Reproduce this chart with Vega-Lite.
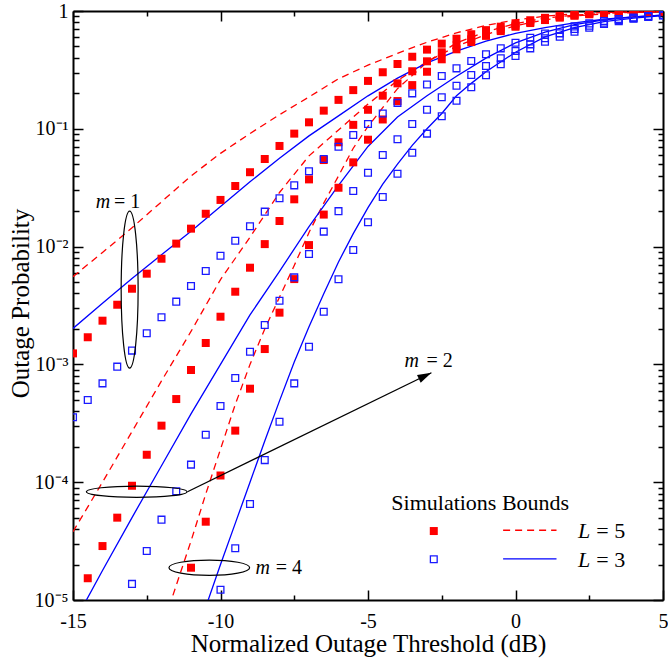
{
  "$schema": "https://vega.github.io/schema/vega-lite/v6.json",
  "width": 590,
  "height": 589,
  "autosize": {"type": "none"},
  "padding": {"left": 73, "top": 11, "right": 5, "bottom": 58},
  "background": "white",
  "config": {
    "font": "Liberation Serif",
    "view": {"stroke": null},
    "axis": {
      "grid": false,
      "domainColor": "black",
      "domainWidth": 2,
      "tickColor": "black",
      "tickWidth": 1.5,
      "labelColor": "black",
      "titleColor": "black",
      "labelFont": "Liberation Serif",
      "titleFont": "Liberation Serif",
      "titleFontWeight": "normal"
    }
  },
  "datasets": {
    "curves": [
      {"x": -15, "y": 0.00556, "m": 1, "L": 5}, {"x": -14, "y": 0.00891, "m": 1, "L": 5}, {"x": -13, "y": 0.01445, "m": 1, "L": 5}, {"x": -12, "y": 0.024, "m": 1, "L": 5}, {"x": -11, "y": 0.0398, "m": 1, "L": 5}, {"x": -10, "y": 0.0619, "m": 1, "L": 5}, {"x": -9, "y": 0.0912, "m": 1, "L": 5}, {"x": -8, "y": 0.1318, "m": 1, "L": 5}, {"x": -7, "y": 0.1862, "m": 1, "L": 5}, {"x": -6, "y": 0.266, "m": 1, "L": 5}, {"x": -5, "y": 0.347, "m": 1, "L": 5}, {"x": -4, "y": 0.437, "m": 1, "L": 5}, {"x": -3, "y": 0.543, "m": 1, "L": 5}, {"x": -2, "y": 0.653, "m": 1, "L": 5}, {"x": -1, "y": 0.755, "m": 1, "L": 5}, {"x": 0, "y": 0.839, "m": 1, "L": 5}, {"x": 1, "y": 0.904, "m": 1, "L": 5}, {"x": 2, "y": 0.946, "m": 1, "L": 5}, {"x": 3, "y": 0.97, "m": 1, "L": 5}, {"x": 4, "y": 0.984, "m": 1, "L": 5}, {"x": 5, "y": 0.991, "m": 1, "L": 5},
      {"x": -15, "y": 0.00202, "m": 1, "L": 3}, {"x": -14, "y": 0.00331, "m": 1, "L": 3}, {"x": -13, "y": 0.00537, "m": 1, "L": 3}, {"x": -12, "y": 0.00851, "m": 1, "L": 3}, {"x": -11, "y": 0.01349, "m": 1, "L": 3}, {"x": -10, "y": 0.0219, "m": 1, "L": 3}, {"x": -9, "y": 0.0355, "m": 1, "L": 3}, {"x": -8, "y": 0.0562, "m": 1, "L": 3}, {"x": -7, "y": 0.0871, "m": 1, "L": 3}, {"x": -6, "y": 0.1288, "m": 1, "L": 3}, {"x": -5, "y": 0.1905, "m": 1, "L": 3}, {"x": -4, "y": 0.269, "m": 1, "L": 3}, {"x": -3, "y": 0.363, "m": 1, "L": 3}, {"x": -2, "y": 0.457, "m": 1, "L": 3}, {"x": -1, "y": 0.556, "m": 1, "L": 3}, {"x": 0, "y": 0.646, "m": 1, "L": 3}, {"x": 1, "y": 0.724, "m": 1, "L": 3}, {"x": 2, "y": 0.794, "m": 1, "L": 3}, {"x": 3, "y": 0.851, "m": 1, "L": 3}, {"x": 4, "y": 0.891, "m": 1, "L": 3}, {"x": 5, "y": 0.923, "m": 1, "L": 3},
      {"x": -15, "y": 0.000038, "m": 2, "L": 5}, {"x": -14, "y": 0.0001, "m": 2, "L": 5}, {"x": -13, "y": 0.000269, "m": 2, "L": 5}, {"x": -12, "y": 0.000724, "m": 2, "L": 5}, {"x": -11, "y": 0.001905, "m": 2, "L": 5}, {"x": -10, "y": 0.00525, "m": 2, "L": 5}, {"x": -9, "y": 0.01202, "m": 2, "L": 5}, {"x": -8, "y": 0.0288, "m": 2, "L": 5}, {"x": -7, "y": 0.0589, "m": 2, "L": 5}, {"x": -6, "y": 0.0977, "m": 2, "L": 5}, {"x": -5, "y": 0.162, "m": 2, "L": 5}, {"x": -4, "y": 0.257, "m": 2, "L": 5}, {"x": -3, "y": 0.372, "m": 2, "L": 5}, {"x": -2, "y": 0.501, "m": 2, "L": 5}, {"x": -1, "y": 0.631, "m": 2, "L": 5}, {"x": 0, "y": 0.75, "m": 2, "L": 5}, {"x": 1, "y": 0.841, "m": 2, "L": 5}, {"x": 2, "y": 0.906, "m": 2, "L": 5}, {"x": 3, "y": 0.946, "m": 2, "L": 5}, {"x": 4, "y": 0.97, "m": 2, "L": 5}, {"x": 5, "y": 0.984, "m": 2, "L": 5},
      {"x": -15, "y": 0.00000617, "m": 2, "L": 3}, {"x": -14, "y": 0.00001778, "m": 2, "L": 3}, {"x": -13, "y": 0.0000501, "m": 2, "L": 3}, {"x": -12, "y": 0.000138, "m": 2, "L": 3}, {"x": -11, "y": 0.00038, "m": 2, "L": 3}, {"x": -10, "y": 0.001, "m": 2, "L": 3}, {"x": -9, "y": 0.00263, "m": 2, "L": 3}, {"x": -8, "y": 0.00617, "m": 2, "L": 3}, {"x": -7, "y": 0.01479, "m": 2, "L": 3}, {"x": -6, "y": 0.0331, "m": 2, "L": 3}, {"x": -5, "y": 0.0708, "m": 2, "L": 3}, {"x": -4, "y": 0.1259, "m": 2, "L": 3}, {"x": -3, "y": 0.1905, "m": 2, "L": 3}, {"x": -2, "y": 0.279, "m": 2, "L": 3}, {"x": -1, "y": 0.398, "m": 2, "L": 3}, {"x": 0, "y": 0.537, "m": 2, "L": 3}, {"x": 1, "y": 0.661, "m": 2, "L": 3}, {"x": 2, "y": 0.767, "m": 2, "L": 3}, {"x": 3, "y": 0.841, "m": 2, "L": 3}, {"x": 4, "y": 0.891, "m": 2, "L": 3}, {"x": 5, "y": 0.923, "m": 2, "L": 3},
      {"x": -12, "y": 0.00000562, "m": 4, "L": 5}, {"x": -11, "y": 0.0000316, "m": 4, "L": 5}, {"x": -10.5, "y": 0.0000794, "m": 4, "L": 5}, {"x": -10, "y": 0.0001905, "m": 4, "L": 5}, {"x": -9.5, "y": 0.000457, "m": 4, "L": 5}, {"x": -9, "y": 0.001, "m": 4, "L": 5}, {"x": -8.5, "y": 0.002, "m": 4, "L": 5}, {"x": -8, "y": 0.00372, "m": 4, "L": 5}, {"x": -7.5, "y": 0.00692, "m": 4, "L": 5}, {"x": -7, "y": 0.01318, "m": 4, "L": 5}, {"x": -6.5, "y": 0.0234, "m": 4, "L": 5}, {"x": -6, "y": 0.0398, "m": 4, "L": 5}, {"x": -5.5, "y": 0.0684, "m": 4, "L": 5}, {"x": -5, "y": 0.1047, "m": 4, "L": 5}, {"x": -4, "y": 0.219, "m": 4, "L": 5}, {"x": -3, "y": 0.367, "m": 4, "L": 5}, {"x": -2, "y": 0.537, "m": 4, "L": 5}, {"x": -1, "y": 0.668, "m": 4, "L": 5}, {"x": 0, "y": 0.782, "m": 4, "L": 5}, {"x": 1, "y": 0.871, "m": 4, "L": 5}, {"x": 2, "y": 0.923, "m": 4, "L": 5}, {"x": 3, "y": 0.955, "m": 4, "L": 5}, {"x": 4, "y": 0.977, "m": 4, "L": 5}, {"x": 5, "y": 0.989, "m": 4, "L": 5},
      {"x": -10.5, "y": 0.00000871, "m": 4, "L": 3}, {"x": -10, "y": 0.00002, "m": 4, "L": 3}, {"x": -9.5, "y": 0.0000447, "m": 4, "L": 3}, {"x": -9, "y": 0.0001, "m": 4, "L": 3}, {"x": -8.5, "y": 0.000224, "m": 4, "L": 3}, {"x": -8, "y": 0.00049, "m": 4, "L": 3}, {"x": -7.5, "y": 0.001047, "m": 4, "L": 3}, {"x": -7, "y": 0.00209, "m": 4, "L": 3}, {"x": -6.5, "y": 0.00398, "m": 4, "L": 3}, {"x": -6, "y": 0.00741, "m": 4, "L": 3}, {"x": -5.5, "y": 0.01288, "m": 4, "L": 3}, {"x": -5, "y": 0.0214, "m": 4, "L": 3}, {"x": -4.5, "y": 0.0339, "m": 4, "L": 3}, {"x": -4, "y": 0.0501, "m": 4, "L": 3}, {"x": -3.5, "y": 0.0724, "m": 4, "L": 3}, {"x": -3, "y": 0.1, "m": 4, "L": 3}, {"x": -2.5, "y": 0.135, "m": 4, "L": 3}, {"x": -2, "y": 0.1905, "m": 4, "L": 3}, {"x": -1.5, "y": 0.243, "m": 4, "L": 3}, {"x": -1, "y": 0.305, "m": 4, "L": 3}, {"x": 0, "y": 0.447, "m": 4, "L": 3}, {"x": 1, "y": 0.603, "m": 4, "L": 3}, {"x": 2, "y": 0.724, "m": 4, "L": 3}, {"x": 3, "y": 0.813, "m": 4, "L": 3}, {"x": 4, "y": 0.871, "m": 4, "L": 3}, {"x": 5, "y": 0.912, "m": 4, "L": 3}
    ],
    "sims": [
      {"x": -15, "y": 0.00124, "m": 1, "L": 5}, {"x": -14.5, "y": 0.0017, "m": 1, "L": 5}, {"x": -14, "y": 0.00235, "m": 1, "L": 5}, {"x": -13.5, "y": 0.00321, "m": 1, "L": 5}, {"x": -13, "y": 0.00439, "m": 1, "L": 5}, {"x": -12.5, "y": 0.00589, "m": 1, "L": 5}, {"x": -12, "y": 0.00789, "m": 1, "L": 5}, {"x": -11.5, "y": 0.0106, "m": 1, "L": 5}, {"x": -11, "y": 0.0142, "m": 1, "L": 5}, {"x": -10.5, "y": 0.019, "m": 1, "L": 5}, {"x": -10, "y": 0.0249, "m": 1, "L": 5}, {"x": -9.5, "y": 0.0327, "m": 1, "L": 5}, {"x": -9, "y": 0.0428, "m": 1, "L": 5}, {"x": -8.5, "y": 0.0554, "m": 1, "L": 5}, {"x": -8, "y": 0.0715, "m": 1, "L": 5}, {"x": -7.5, "y": 0.091, "m": 1, "L": 5}, {"x": -7, "y": 0.1135, "m": 1, "L": 5}, {"x": -6.5, "y": 0.1426, "m": 1, "L": 5}, {"x": -6, "y": 0.176, "m": 1, "L": 5}, {"x": -5.5, "y": 0.213, "m": 1, "L": 5}, {"x": -5, "y": 0.255, "m": 1, "L": 5}, {"x": -4.5, "y": 0.302, "m": 1, "L": 5}, {"x": -4, "y": 0.355, "m": 1, "L": 5}, {"x": -3.5, "y": 0.409, "m": 1, "L": 5}, {"x": -3, "y": 0.47, "m": 1, "L": 5}, {"x": -2.5, "y": 0.528, "m": 1, "L": 5}, {"x": -2, "y": 0.582, "m": 1, "L": 5}, {"x": -1.5, "y": 0.635, "m": 1, "L": 5}, {"x": -1, "y": 0.688, "m": 1, "L": 5}, {"x": -0.5, "y": 0.736, "m": 1, "L": 5}, {"x": 0, "y": 0.786, "m": 1, "L": 5}, {"x": 0.5, "y": 0.835, "m": 1, "L": 5}, {"x": 1, "y": 0.875, "m": 1, "L": 5}, {"x": 1.5, "y": 0.91, "m": 1, "L": 5}, {"x": 2, "y": 0.94, "m": 1, "L": 5}, {"x": 2.5, "y": 0.962, "m": 1, "L": 5}, {"x": 3, "y": 0.972, "m": 1, "L": 5}, {"x": 3.5, "y": 0.978, "m": 1, "L": 5}, {"x": 4, "y": 0.983, "m": 1, "L": 5}, {"x": 4.5, "y": 0.987, "m": 1, "L": 5}, {"x": 5, "y": 0.99, "m": 1, "L": 5},
      {"x": -15, "y": 0.000009, "m": 2, "L": 5}, {"x": -14.5, "y": 0.0000153, "m": 2, "L": 5}, {"x": -14, "y": 0.0000287, "m": 2, "L": 5}, {"x": -13.5, "y": 0.00005, "m": 2, "L": 5}, {"x": -13, "y": 0.0000933, "m": 2, "L": 5}, {"x": -12.5, "y": 0.000171, "m": 2, "L": 5}, {"x": -12, "y": 0.000302, "m": 2, "L": 5}, {"x": -11.5, "y": 0.000508, "m": 2, "L": 5}, {"x": -11, "y": 0.000896, "m": 2, "L": 5}, {"x": -10.5, "y": 0.00152, "m": 2, "L": 5}, {"x": -10, "y": 0.00254, "m": 2, "L": 5}, {"x": -9.5, "y": 0.00414, "m": 2, "L": 5}, {"x": -9, "y": 0.00662, "m": 2, "L": 5}, {"x": -8.5, "y": 0.0105, "m": 2, "L": 5}, {"x": -8, "y": 0.0165, "m": 2, "L": 5}, {"x": -7.5, "y": 0.0252, "m": 2, "L": 5}, {"x": -7, "y": 0.0372, "m": 2, "L": 5}, {"x": -6.5, "y": 0.0543, "m": 2, "L": 5}, {"x": -6, "y": 0.0768, "m": 2, "L": 5}, {"x": -5.5, "y": 0.108, "m": 2, "L": 5}, {"x": -5, "y": 0.145, "m": 2, "L": 5}, {"x": -4.5, "y": 0.191, "m": 2, "L": 5}, {"x": -4, "y": 0.243, "m": 2, "L": 5}, {"x": -3.5, "y": 0.308, "m": 2, "L": 5}, {"x": -3, "y": 0.374, "m": 2, "L": 5}, {"x": -2.5, "y": 0.446, "m": 2, "L": 5}, {"x": -2, "y": 0.511, "m": 2, "L": 5}, {"x": -1.5, "y": 0.575, "m": 2, "L": 5}, {"x": -1, "y": 0.635, "m": 2, "L": 5}, {"x": -0.5, "y": 0.695, "m": 2, "L": 5}, {"x": 0, "y": 0.752, "m": 2, "L": 5}, {"x": 0.5, "y": 0.805, "m": 2, "L": 5}, {"x": 1, "y": 0.85, "m": 2, "L": 5}, {"x": 1.5, "y": 0.89, "m": 2, "L": 5}, {"x": 2, "y": 0.92, "m": 2, "L": 5}, {"x": 2.5, "y": 0.945, "m": 2, "L": 5}, {"x": 3, "y": 0.962, "m": 2, "L": 5}, {"x": 3.5, "y": 0.973, "m": 2, "L": 5}, {"x": 4, "y": 0.98, "m": 2, "L": 5}, {"x": 4.5, "y": 0.986, "m": 2, "L": 5}, {"x": 5, "y": 0.99, "m": 2, "L": 5},
      {"x": -11, "y": 0.0000188, "m": 4, "L": 5}, {"x": -10.5, "y": 0.0000462, "m": 4, "L": 5}, {"x": -10, "y": 0.000114, "m": 4, "L": 5}, {"x": -9.5, "y": 0.000274, "m": 4, "L": 5}, {"x": -9, "y": 0.000622, "m": 4, "L": 5}, {"x": -8.5, "y": 0.00135, "m": 4, "L": 5}, {"x": -8, "y": 0.00275, "m": 4, "L": 5}, {"x": -7.5, "y": 0.0053, "m": 4, "L": 5}, {"x": -7, "y": 0.0103, "m": 4, "L": 5}, {"x": -6.5, "y": 0.0187, "m": 4, "L": 5}, {"x": -6, "y": 0.0316, "m": 4, "L": 5}, {"x": -5.5, "y": 0.0519, "m": 4, "L": 5}, {"x": -5, "y": 0.0808, "m": 4, "L": 5}, {"x": -4.5, "y": 0.12, "m": 4, "L": 5}, {"x": -4, "y": 0.172, "m": 4, "L": 5}, {"x": -3.5, "y": 0.235, "m": 4, "L": 5}, {"x": -3, "y": 0.305, "m": 4, "L": 5}, {"x": -2.5, "y": 0.389, "m": 4, "L": 5}, {"x": -2, "y": 0.473, "m": 4, "L": 5}, {"x": -1.5, "y": 0.545, "m": 4, "L": 5}, {"x": -1, "y": 0.615, "m": 4, "L": 5}, {"x": -0.5, "y": 0.675, "m": 4, "L": 5}, {"x": 0, "y": 0.735, "m": 4, "L": 5}, {"x": 0.5, "y": 0.79, "m": 4, "L": 5}, {"x": 1, "y": 0.838, "m": 4, "L": 5}, {"x": 1.5, "y": 0.878, "m": 4, "L": 5}, {"x": 2, "y": 0.912, "m": 4, "L": 5}, {"x": 2.5, "y": 0.938, "m": 4, "L": 5}, {"x": 3, "y": 0.955, "m": 4, "L": 5}, {"x": 3.5, "y": 0.968, "m": 4, "L": 5}, {"x": 4, "y": 0.977, "m": 4, "L": 5}, {"x": 4.5, "y": 0.984, "m": 4, "L": 5}, {"x": 5, "y": 0.99, "m": 4, "L": 5},
      {"x": -15, "y": 0.000356, "m": 1, "L": 3}, {"x": -14.5, "y": 0.000499, "m": 1, "L": 3}, {"x": -14, "y": 0.00069, "m": 1, "L": 3}, {"x": -13.5, "y": 0.000957, "m": 1, "L": 3}, {"x": -13, "y": 0.00131, "m": 1, "L": 3}, {"x": -12.5, "y": 0.00184, "m": 1, "L": 3}, {"x": -12, "y": 0.00251, "m": 1, "L": 3}, {"x": -11.5, "y": 0.00341, "m": 1, "L": 3}, {"x": -11, "y": 0.00463, "m": 1, "L": 3}, {"x": -10.5, "y": 0.00621, "m": 1, "L": 3}, {"x": -10, "y": 0.00837, "m": 1, "L": 3}, {"x": -9.5, "y": 0.0112, "m": 1, "L": 3}, {"x": -9, "y": 0.0149, "m": 1, "L": 3}, {"x": -8.5, "y": 0.0198, "m": 1, "L": 3}, {"x": -8, "y": 0.0257, "m": 1, "L": 3}, {"x": -7.5, "y": 0.0331, "m": 1, "L": 3}, {"x": -7, "y": 0.0436, "m": 1, "L": 3}, {"x": -6.5, "y": 0.0554, "m": 1, "L": 3}, {"x": -6, "y": 0.0705, "m": 1, "L": 3}, {"x": -5.5, "y": 0.0886, "m": 1, "L": 3}, {"x": -5, "y": 0.11, "m": 1, "L": 3}, {"x": -4.5, "y": 0.135, "m": 1, "L": 3}, {"x": -4, "y": 0.166, "m": 1, "L": 3}, {"x": -3.5, "y": 0.2, "m": 1, "L": 3}, {"x": -3, "y": 0.238, "m": 1, "L": 3}, {"x": -2.5, "y": 0.281, "m": 1, "L": 3}, {"x": -2, "y": 0.326, "m": 1, "L": 3}, {"x": -1.5, "y": 0.376, "m": 1, "L": 3}, {"x": -1, "y": 0.429, "m": 1, "L": 3}, {"x": -0.5, "y": 0.482, "m": 1, "L": 3}, {"x": 0, "y": 0.538, "m": 1, "L": 3}, {"x": 0.5, "y": 0.593, "m": 1, "L": 3}, {"x": 1, "y": 0.645, "m": 1, "L": 3}, {"x": 1.5, "y": 0.699, "m": 1, "L": 3}, {"x": 2, "y": 0.74, "m": 1, "L": 3}, {"x": 2.5, "y": 0.785, "m": 1, "L": 3}, {"x": 3, "y": 0.823, "m": 1, "L": 3}, {"x": 3.5, "y": 0.855, "m": 1, "L": 3}, {"x": 4, "y": 0.88, "m": 1, "L": 3}, {"x": 4.5, "y": 0.905, "m": 1, "L": 3}, {"x": 5, "y": 0.925, "m": 1, "L": 3},
      {"x": -13, "y": 0.0000137, "m": 2, "L": 3}, {"x": -12.5, "y": 0.0000261, "m": 2, "L": 3}, {"x": -12, "y": 0.0000481, "m": 2, "L": 3}, {"x": -11.5, "y": 0.0000837, "m": 2, "L": 3}, {"x": -11, "y": 0.000141, "m": 2, "L": 3}, {"x": -10.5, "y": 0.000253, "m": 2, "L": 3}, {"x": -10, "y": 0.000444, "m": 2, "L": 3}, {"x": -9.5, "y": 0.000767, "m": 2, "L": 3}, {"x": -9, "y": 0.00128, "m": 2, "L": 3}, {"x": -8.5, "y": 0.00216, "m": 2, "L": 3}, {"x": -8, "y": 0.00347, "m": 2, "L": 3}, {"x": -7.5, "y": 0.00548, "m": 2, "L": 3}, {"x": -7, "y": 0.00865, "m": 2, "L": 3}, {"x": -6.5, "y": 0.0134, "m": 2, "L": 3}, {"x": -6, "y": 0.02, "m": 2, "L": 3}, {"x": -5.5, "y": 0.0296, "m": 2, "L": 3}, {"x": -5, "y": 0.0424, "m": 2, "L": 3}, {"x": -4.5, "y": 0.06, "m": 2, "L": 3}, {"x": -4, "y": 0.0814, "m": 2, "L": 3}, {"x": -3.5, "y": 0.11, "m": 2, "L": 3}, {"x": -3, "y": 0.145, "m": 2, "L": 3}, {"x": -2.5, "y": 0.185, "m": 2, "L": 3}, {"x": -2, "y": 0.232, "m": 2, "L": 3}, {"x": -1.5, "y": 0.286, "m": 2, "L": 3}, {"x": -1, "y": 0.341, "m": 2, "L": 3}, {"x": -0.5, "y": 0.397, "m": 2, "L": 3}, {"x": 0, "y": 0.457, "m": 2, "L": 3}, {"x": 0.5, "y": 0.521, "m": 2, "L": 3}, {"x": 1, "y": 0.587, "m": 2, "L": 3}, {"x": 1.5, "y": 0.646, "m": 2, "L": 3}, {"x": 2, "y": 0.703, "m": 2, "L": 3}, {"x": 2.5, "y": 0.75, "m": 2, "L": 3}, {"x": 3, "y": 0.795, "m": 2, "L": 3}, {"x": 3.5, "y": 0.835, "m": 2, "L": 3}, {"x": 4, "y": 0.87, "m": 2, "L": 3}, {"x": 4.5, "y": 0.9, "m": 2, "L": 3}, {"x": 5, "y": 0.922, "m": 2, "L": 3},
      {"x": -10, "y": 0.0000122, "m": 4, "L": 3}, {"x": -9.5, "y": 0.0000275, "m": 4, "L": 3}, {"x": -9, "y": 0.0000653, "m": 4, "L": 3}, {"x": -8.5, "y": 0.000154, "m": 4, "L": 3}, {"x": -8, "y": 0.000326, "m": 4, "L": 3}, {"x": -7.5, "y": 0.00069, "m": 4, "L": 3}, {"x": -7, "y": 0.00141, "m": 4, "L": 3}, {"x": -6.5, "y": 0.0028, "m": 4, "L": 3}, {"x": -6, "y": 0.00528, "m": 4, "L": 3}, {"x": -5.5, "y": 0.00936, "m": 4, "L": 3}, {"x": -5, "y": 0.0161, "m": 4, "L": 3}, {"x": -4.5, "y": 0.0264, "m": 4, "L": 3}, {"x": -4, "y": 0.0416, "m": 4, "L": 3}, {"x": -3.5, "y": 0.0627, "m": 4, "L": 3}, {"x": -3, "y": 0.091, "m": 4, "L": 3}, {"x": -2.5, "y": 0.128, "m": 4, "L": 3}, {"x": -2, "y": 0.173, "m": 4, "L": 3}, {"x": -1.5, "y": 0.225, "m": 4, "L": 3}, {"x": -1, "y": 0.285, "m": 4, "L": 3}, {"x": -0.5, "y": 0.353, "m": 4, "L": 3}, {"x": 0, "y": 0.415, "m": 4, "L": 3}, {"x": 0.5, "y": 0.482, "m": 4, "L": 3}, {"x": 1, "y": 0.549, "m": 4, "L": 3}, {"x": 1.5, "y": 0.605, "m": 4, "L": 3}, {"x": 2, "y": 0.668, "m": 4, "L": 3}, {"x": 2.5, "y": 0.722, "m": 4, "L": 3}, {"x": 3, "y": 0.776, "m": 4, "L": 3}, {"x": 3.5, "y": 0.82, "m": 4, "L": 3}, {"x": 4, "y": 0.86, "m": 4, "L": 3}, {"x": 4.5, "y": 0.89, "m": 4, "L": 3}, {"x": 5, "y": 0.915, "m": 4, "L": 3}
    ],
    "ell1": [{"x": -13.08, "y": 0.00431}],
    "ell2": [{"x": -12.84, "y": 0.000083}],
    "ell4": [{"x": -10.38, "y": 0.0000188}],
    "arrow": [{"x": -11.12, "y": 0.000083, "x2": -2.85, "y2": 0.00085}],
    "head": [{"x": -2.85, "y": 0.00085}],
    "annot_it": [
      {"x": -14.23, "y": 0.0211, "t": "m"},
      {"x": -3.76, "y": 0.000955, "t": "m"},
      {"x": -8.81, "y": 0.0000166, "t": "m"}
    ],
    "annot_rm": [
      {"x": -13.61, "y": 0.0211, "t": "= 1"},
      {"x": -3.02, "y": 0.000955, "t": "= 2"},
      {"x": -8.13, "y": 0.0000166, "t": "= 4"}
    ],
    "leg_head": [{"x": -4.21, "y": 0.0000581, "t": "Simulations Bounds"}],
    "leg_it": [
      {"x": 2.12, "y": 0.0000334, "t": "L"},
      {"x": 2.12, "y": 0.0000192, "t": "L"}
    ],
    "leg_rm": [
      {"x": 2.74, "y": 0.0000334, "t": "= 5"},
      {"x": 2.74, "y": 0.0000192, "t": "= 3"}
    ],
    "leg_red": [{"x": -2.77, "y": 0.0000385, "x2": -0.42, "x3": 1.39, "yl": 0.0000391}],
    "leg_blue": [{"x": -2.77, "y": 0.0000222, "x2": -0.42, "x3": 1.39, "yl": 0.0000223}]
  },
  "layer": [
    {
      "data": {"name": "curves"},
      "transform": [{"filter": "datum.L == 5"}],
      "mark": {"type": "line", "color": "#ff0000", "strokeDash": [7, 5], "strokeWidth": 1.3, "clip": true},
      "encoding": {
        "x": {
          "field": "x", "type": "quantitative",
          "scale": {"type": "linear", "domain": [-15, 5], "nice": false, "zero": false},
          "axis": {
            "orient": "bottom",
            "values": [-15, -12.5, -10, -7.5, -5, -2.5, 0, 2.5, 5],
            "tickSize": -10,
            "tickDash": {"condition": {"test": "abs(datum.value % 5) > 0.1", "value": [5, 40]}, "value": [100, 0]},
            "labelExpr": "abs(datum.value % 5) > 0.1 ? '' : toString(datum.value)",
            "labelFontSize": 20,
            "labelPadding": 21,
            "labelFlush": false,
            "labelOverlap": false,
            "title": "Normalized Outage Threshold (dB)",
            "titleFontSize": 25,
            "titleX": 295,
            "titleY": 51,
            "titleAlign": "center",
            "titleBaseline": "alphabetic"
          }
        },
        "y": {
          "field": "y", "type": "quantitative",
          "scale": {"type": "log", "domain": [0.00001, 1], "nice": false},
          "axis": {
            "orient": "left",
            "values": [0.00001, 0.00002, 0.00003, 0.00004, 0.00005, 0.00006, 0.00007, 0.00008, 0.00009, 0.0001, 0.0002, 0.0003, 0.0004, 0.0005, 0.0006, 0.0007, 0.0008, 0.0009, 0.001, 0.002, 0.003, 0.004, 0.005, 0.006, 0.007, 0.008, 0.009, 0.01, 0.02, 0.03, 0.04, 0.05, 0.06, 0.07, 0.08, 0.09, 0.1, 0.2, 0.3, 0.4, 0.5, 0.6, 0.7, 0.8, 0.9, 1],
            "tickSize": -10,
            "tickDash": {"condition": {"test": "abs(log(datum.value)/LN10 - round(log(datum.value)/LN10)) > 0.01", "value": [6, 40]}, "value": [100, 0]},
            "labelExpr": "datum.value > 0.95 ? '1' : abs(log(datum.value)/LN10 - round(log(datum.value)/LN10)) > 0.01 ? '' : '10' + (round(log(datum.value)/LN10) == -1 ? '⁻¹' : round(log(datum.value)/LN10) == -2 ? '⁻²' : round(log(datum.value)/LN10) == -3 ? '⁻³' : round(log(datum.value)/LN10) == -4 ? '⁻⁴' : '⁻⁵')",
            "labelFontSize": 20,
            "labelPadding": 15,
            "labelFlush": false,
            "labelOverlap": false,
            "title": "Outage Probability",
            "titleFontSize": 25,
            "titleX": -45,
            "titleY": 292,
            "titleAngle": -90,
            "titleAlign": "center",
            "titleBaseline": "alphabetic"
          }
        },
        "detail": {"field": "m", "type": "nominal"}
      }
    },
    {
      "data": {"name": "curves"},
      "transform": [{"filter": "datum.L == 3"}],
      "mark": {"type": "line", "color": "#0000ff", "strokeWidth": 1.3, "clip": true},
      "encoding": {
        "x": {
          "field": "x", "type": "quantitative",
          "scale": {"type": "linear", "domain": [-15, 5], "nice": false, "zero": false},
          "axis": {
            "orient": "top",
            "values": [-15, -12.5, -10, -7.5, -5, -2.5, 0, 2.5, 5],
            "tickSize": -10,
            "tickDash": {"condition": {"test": "abs(datum.value % 5) > 0.1", "value": [5, 40]}, "value": [100, 0]},
            "labels": false,
            "title": null
          }
        },
        "y": {
          "field": "y", "type": "quantitative",
          "scale": {"type": "log", "domain": [0.00001, 1], "nice": false},
          "axis": {
            "orient": "right",
            "values": [0.00001, 0.00002, 0.00003, 0.00004, 0.00005, 0.00006, 0.00007, 0.00008, 0.00009, 0.0001, 0.0002, 0.0003, 0.0004, 0.0005, 0.0006, 0.0007, 0.0008, 0.0009, 0.001, 0.002, 0.003, 0.004, 0.005, 0.006, 0.007, 0.008, 0.009, 0.01, 0.02, 0.03, 0.04, 0.05, 0.06, 0.07, 0.08, 0.09, 0.1, 0.2, 0.3, 0.4, 0.5, 0.6, 0.7, 0.8, 0.9, 1],
            "tickSize": -10,
            "tickDash": {"condition": {"test": "abs(log(datum.value)/LN10 - round(log(datum.value)/LN10)) > 0.01", "value": [5, 40]}, "value": [100, 0]},
            "labels": false,
            "title": null
          }
        },
        "detail": {"field": "m", "type": "nominal"}
      }
    },
    {
      "data": {"name": "sims"},
      "transform": [{"filter": "datum.L == 5"}],
      "mark": {"type": "point", "shape": "square", "filled": true, "color": "#ff0000", "size": 64, "opacity": 1, "clip": true},
      "encoding": {
        "x": {"field": "x", "type": "quantitative", "axis": null},
        "y": {"field": "y", "type": "quantitative", "axis": null}
      }
    },
    {
      "data": {"name": "sims"},
      "transform": [{"filter": "datum.L == 3"}],
      "mark": {"type": "point", "shape": "square", "filled": false, "stroke": "#1a1aff", "strokeWidth": 1.3, "size": 46, "opacity": 1, "clip": true},
      "encoding": {
        "x": {"field": "x", "type": "quantitative", "axis": null},
        "y": {"field": "y", "type": "quantitative", "axis": null}
      }
    },
    {
      "data": {"name": "ell1"},
      "mark": {"type": "point", "shape": "M0,-1 C0.0597,-1 0.108,-0.5523 0.108,0 C0.108,0.5523 0.0597,1 0,1 C-0.0597,1 -0.108,0.5523 -0.108,0 C-0.108,-0.5523 -0.0597,-1 0,-1 Z", "size": 24649, "filled": false, "stroke": "black", "strokeWidth": 1.2, "opacity": 1},
      "encoding": {
        "x": {"field": "x", "type": "quantitative", "axis": null},
        "y": {"field": "y", "type": "quantitative", "axis": null}
      }
    },
    {
      "data": {"name": "ell2"},
      "mark": {"type": "point", "shape": "M-1,0 C-1,-0.0619 -0.5523,-0.112 0,-0.112 C0.5523,-0.112 1,-0.0619 1,0 C1,0.0619 0.5523,0.112 0,0.112 C-0.5523,0.112 -1,0.0619 -1,0 Z", "size": 10140, "filled": false, "stroke": "black", "strokeWidth": 1.2, "opacity": 1},
      "encoding": {
        "x": {"field": "x", "type": "quantitative", "axis": null},
        "y": {"field": "y", "type": "quantitative", "axis": null}
      }
    },
    {
      "data": {"name": "ell4"},
      "mark": {"type": "point", "shape": "M-1,0 C-1,-0.1049 -0.5523,-0.19 0,-0.19 C0.5523,-0.19 1,-0.1049 1,0 C1,0.1049 0.5523,0.19 0,0.19 C-0.5523,0.19 -1,0.1049 -1,0 Z", "size": 6512, "filled": false, "stroke": "black", "strokeWidth": 1.2, "opacity": 1},
      "encoding": {
        "x": {"field": "x", "type": "quantitative", "axis": null},
        "y": {"field": "y", "type": "quantitative", "axis": null}
      }
    },
    {
      "data": {"name": "arrow"},
      "mark": {"type": "rule", "color": "black", "strokeWidth": 1.3},
      "encoding": {
        "x": {"field": "x", "type": "quantitative", "axis": null},
        "y": {"field": "y", "type": "quantitative", "axis": null},
        "x2": {"field": "x2"},
        "y2": {"field": "y2"}
      }
    },
    {
      "data": {"name": "head"},
      "mark": {"type": "point", "shape": "M0,0 L-1,-0.3 L-1,0.3 Z", "size": 784, "filled": true, "color": "black", "angle": -26, "opacity": 1},
      "encoding": {
        "x": {"field": "x", "type": "quantitative", "axis": null},
        "y": {"field": "y", "type": "quantitative", "axis": null}
      }
    },
    {
      "data": {"name": "annot_it"},
      "mark": {"type": "text", "font": "Liberation Serif", "fontSize": 20, "fontStyle": "italic", "align": "left", "baseline": "alphabetic", "color": "black"},
      "encoding": {
        "x": {"field": "x", "type": "quantitative", "axis": null},
        "y": {"field": "y", "type": "quantitative", "axis": null},
        "text": {"field": "t"}
      }
    },
    {
      "data": {"name": "annot_rm"},
      "mark": {"type": "text", "font": "Liberation Serif", "fontSize": 20, "align": "left", "baseline": "alphabetic", "color": "black"},
      "encoding": {
        "x": {"field": "x", "type": "quantitative", "axis": null},
        "y": {"field": "y", "type": "quantitative", "axis": null},
        "text": {"field": "t"}
      }
    },
    {
      "data": {"name": "leg_head"},
      "mark": {"type": "text", "font": "Liberation Serif", "fontSize": 22, "align": "left", "baseline": "alphabetic", "color": "black"},
      "encoding": {
        "x": {"field": "x", "type": "quantitative", "axis": null},
        "y": {"field": "y", "type": "quantitative", "axis": null},
        "text": {"field": "t"}
      }
    },
    {
      "data": {"name": "leg_it"},
      "mark": {"type": "text", "font": "Liberation Serif", "fontSize": 22, "fontStyle": "italic", "align": "left", "baseline": "alphabetic", "color": "black"},
      "encoding": {
        "x": {"field": "x", "type": "quantitative", "axis": null},
        "y": {"field": "y", "type": "quantitative", "axis": null},
        "text": {"field": "t"}
      }
    },
    {
      "data": {"name": "leg_rm"},
      "mark": {"type": "text", "font": "Liberation Serif", "fontSize": 22, "align": "left", "baseline": "alphabetic", "color": "black"},
      "encoding": {
        "x": {"field": "x", "type": "quantitative", "axis": null},
        "y": {"field": "y", "type": "quantitative", "axis": null},
        "text": {"field": "t"}
      }
    },
    {
      "data": {"name": "leg_red"},
      "mark": {"type": "rule", "color": "#ff0000", "strokeDash": [7, 5], "strokeWidth": 1.3},
      "encoding": {
        "x": {"field": "x2", "type": "quantitative", "axis": null},
        "x2": {"field": "x3"},
        "y": {"field": "yl", "type": "quantitative", "axis": null}
      }
    },
    {
      "data": {"name": "leg_blue"},
      "mark": {"type": "rule", "color": "#0000ff", "strokeWidth": 1.3},
      "encoding": {
        "x": {"field": "x2", "type": "quantitative", "axis": null},
        "x2": {"field": "x3"},
        "y": {"field": "yl", "type": "quantitative", "axis": null}
      }
    },
    {
      "data": {"name": "leg_red"},
      "mark": {"type": "point", "shape": "square", "filled": true, "color": "#ff0000", "size": 64, "opacity": 1},
      "encoding": {
        "x": {"field": "x", "type": "quantitative", "axis": null},
        "y": {"field": "y", "type": "quantitative", "axis": null}
      }
    },
    {
      "data": {"name": "leg_blue"},
      "mark": {"type": "point", "shape": "square", "filled": false, "stroke": "#1a1aff", "strokeWidth": 1.3, "size": 46, "opacity": 1},
      "encoding": {
        "x": {"field": "x", "type": "quantitative", "axis": null},
        "y": {"field": "y", "type": "quantitative", "axis": null}
      }
    }
  ],
  "resolve": {"axis": {"x": "independent", "y": "independent"}}
}
